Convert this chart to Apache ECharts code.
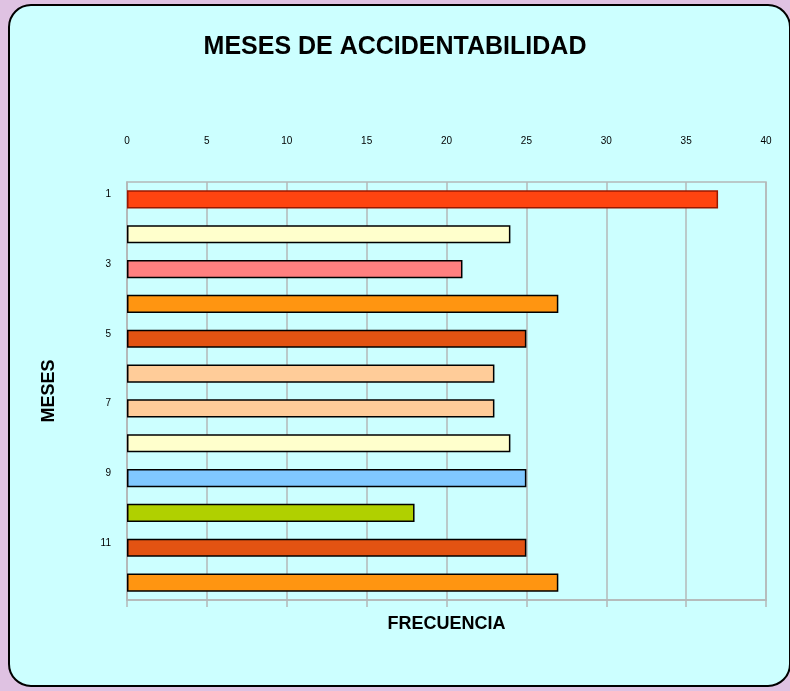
<!DOCTYPE html>
<html>
<head>
<meta charset="utf-8">
<script src="https://cdn.jsdelivr.net/npm/echarts@6/dist/echarts.min.js"></script>
<style>
  html, body { margin: 0; padding: 0; background: #dfc2e2; }
  #main { width: 790px; height: 691px; }
</style>
</head>
<body>
<div id="main"></div>
<script>
var meses = ['1', '2', '3', '4', '5', '6', '7', '8', '9', '10', '11', '12'];
var frecuencia = [37, 24, 21, 27, 25, 23, 23, 24, 25, 18, 25, 27];
var xTicks = [0, 40, 5]; // min, max, paso

// colores de cada barra (como en la hoja original)
var barColors = ['#ff4410', '#ffffcc', '#ff8080', '#ff9511', '#e35312', '#ffcc99',
                 '#ffcc99', '#ffffcc', '#80c8ff', '#b0d000', '#e35312', '#ff9511'];

var myChart = echarts.init(document.getElementById('main'));
var gris = '#b4b8b8';
var fuente = 'Liberation Sans';

var option = {
	backgroundColor: '#dfc2e2',
	graphic: [{
		type: 'rect',
		z: -10,
		shape: { x: 9, y: 5, width: 781, height: 681, r: 22 },
		style: { fill: '#ccffff', stroke: '#000', lineWidth: 2 }
	}],
	title: {
		text: 'MESES DE ACCIDENTABILIDAD',
		left: 'center',
		top: 30,
		textStyle: { fontFamily: fuente, fontWeight: 'bold', fontSize: 25, color: '#000' }
	},
	grid: {
		left: 127, right: 24, top: 182, bottom: 91,
		show: true,
		borderColor: gris,
		borderWidth: 1.5,
		backgroundColor: 'transparent'
	},
	xAxis: [{
		type: 'value',
		position: 'top',
		min: xTicks[0], max: xTicks[1], interval: xTicks[2],
		axisLine: { show: false },
		axisTick: { show: false },
		axisLabel: { margin: 36, color: '#000', fontSize: 10, fontFamily: fuente },
		splitLine: { lineStyle: { color: gris, width: 1.5 } }
	}, {
		type: 'value',
		position: 'bottom',
		min: xTicks[0], max: xTicks[1], interval: xTicks[2],
		name: 'FRECUENCIA',
		nameLocation: 'middle',
		nameGap: 15,
		nameTextStyle: { fontFamily: fuente, fontWeight: 'bold', fontSize: 18, color: '#000' },
		axisLine: { show: true, lineStyle: { color: gris, width: 1.5 } },
		axisTick: { show: true, length: 7, lineStyle: { color: gris, width: 1.5 } },
		axisLabel: { show: false },
		splitLine: { show: false }
	}],
	yAxis: {
		type: 'category',
		data: meses,
		inverse: true,
		name: 'MESES',
		nameLocation: 'middle',
		nameGap: 69,
		nameTextStyle: { fontFamily: fuente, fontWeight: 'bold', fontSize: 18, color: '#000' },
		axisLine: { lineStyle: { color: gris, width: 1.5 } },
		axisTick: { interval: 0, length: 6, lineStyle: { color: gris, width: 1.5 } },
		axisLabel: {
			interval: 1,
			margin: 16,
			color: '#000',
			fontSize: 10,
			fontFamily: fuente,
			verticalAlign: 'bottom'
		}
	},
	series: [{
		type: 'bar',
		xAxisIndex: 0,
		barWidth: '52%',
		data: frecuencia.map(function (v, i) {
			return {
				value: v,
				itemStyle: {
					color: barColors[i],
					borderColor: i === 0 ? '#9a1800' : '#000',
					borderWidth: 1.5
				}
			};
		})
	}]
};
myChart.setOption(option);
</script>
</body>
</html>
